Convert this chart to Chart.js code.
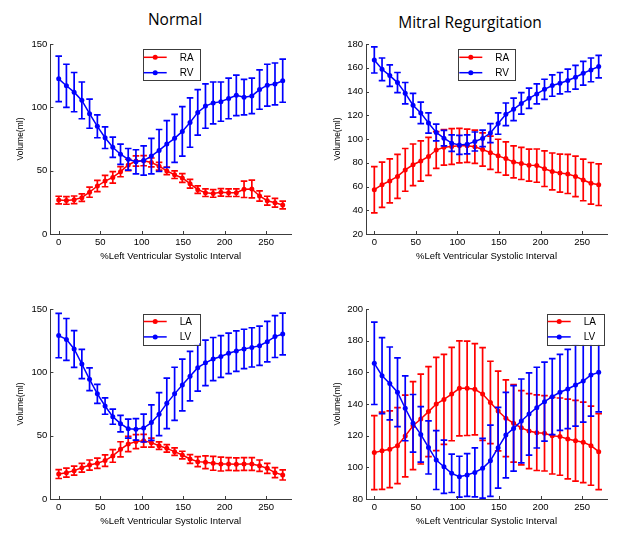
<!DOCTYPE html>
<html>
<head>
<meta charset="utf-8">
<script src="https://cdn.jsdelivr.net/npm/chart.js@4.4.1/dist/chart.umd.min.js"></script>
<style>
  body { margin: 0; background: #fff; }
  #page { position: relative; width: 618px; height: 548px; overflow: hidden; background: #fff; }
  .panel { position: absolute; width: 309px; height: 240px; }
  .title { position: absolute; font-family: "Open Sans", "Noto Sans", sans-serif; font-size: 15.5px; font-weight: 400;
           line-height: 20px; color: #000; white-space: nowrap; transform: translateX(-50%); }
</style>
</head>
<body>
<div id="page">
  <div class="title" style="left:175px;top:9px">Normal</div>
  <div class="title" style="left:470px;top:12px">Mitral Regurgitation</div>
  <div class="panel" style="left:0;top:30px"><canvas id="c1"></canvas></div>
  <div class="panel" style="left:309px;top:30px"><canvas id="c2"></canvas></div>
  <div class="panel" style="left:0;top:295px"><canvas id="c3"></canvas></div>
  <div class="panel" style="left:309px;top:295px"><canvas id="c4"></canvas></div>
</div>
<script>
// % of left ventricular systolic interval
const xs = [0, 9.3, 18.6, 27.9, 37.2, 46.6, 55.9, 65.2, 74.5, 83.8, 93.1, 102.4, 111.7, 121.0, 130.3,
            139.7, 149.0, 158.3, 167.6, 176.9, 186.2, 195.5, 204.8, 214.1, 223.4, 232.8, 242.1, 251.4, 260.7, 270];
const xTicks = [0, 50, 100, 150, 200, 250];

// Normal - right heart
const normRA    = [26.8, 26.5, 27, 28.7, 33, 37.9, 41.8, 44.7, 49.2, 54.5, 57.6, 57.9, 56.5, 53.5, 49.8, 46.8, 44.2, 39.7, 35, 32.6, 32, 32.9, 32.6, 32.6, 35.3, 35.5, 30, 26.3, 24.7, 22.9];
const normRAerr = [3, 3, 3, 3, 4, 4.5, 4.5, 4.5, 4, 4.5, 4, 4, 3.5, 3, 3, 3, 3.5, 3.5, 3, 3, 3, 3, 3, 3, 6.5, 7, 4, 3.5, 3.5, 3];
const normRV    = [122.5, 117, 112, 105.5, 95, 85, 76, 68.5, 63, 59, 57, 58, 61.5, 66, 71, 75.5, 81, 88, 96, 101, 103.5, 104.5, 107, 109.5, 108, 109, 114, 117.5, 118.5, 121];
const normRVerr = [18, 17, 15.5, 14.5, 11.5, 9, 8.5, 8, 8, 8.5, 9.5, 11.5, 14, 16.5, 18.5, 19, 19.5, 19.5, 18, 17.5, 16.5, 15.5, 16, 16, 14, 14, 15.5, 16.5, 16.5, 17];

// Mitral regurgitation - right heart
const mrRA    = [57.3, 61.5, 64.7, 68.5, 74, 78.3, 81.5, 85.3, 90.7, 93, 93.7, 94.4, 94.3, 93.4, 91.2, 88.5, 85.8, 83.5, 80.7, 79.4, 78, 77.6, 75, 72.7, 71.3, 70.6, 68.5, 65.5, 62.7, 61.5];
const mrRAerr = [19.5, 19, 18.5, 18.5, 18, 17.5, 17, 16, 15.5, 15, 15, 14.5, 14, 14, 14, 14, 14, 14, 13.5, 13.5, 13.5, 14, 15, 15.5, 16, 16.5, 17, 17.5, 17.5, 17.5];
const mrRV    = [166.6, 158.7, 153.4, 147.5, 138.6, 128.5, 122, 113.5, 105.5, 100.7, 96.5, 95, 95.5, 97.9, 100.5, 105, 113, 120.8, 125, 130, 134.3, 138, 141.8, 145, 147, 149.3, 152, 155.4, 158.2, 161];
const mrRVerr = [11, 9.5, 9, 8.5, 9, 10, 9, 8.5, 7, 6.5, 7, 8, 8, 8, 7, 8, 9, 9.5, 9.5, 9, 8.5, 8.5, 8.5, 9, 9, 9.5, 10, 10, 10, 9.5];

// Normal - left heart
const normLA    = [19.7, 20.8, 22.4, 24.7, 26.8, 28.2, 30.3, 34, 39.2, 43.4, 45.3, 46, 44.5, 42.1, 40, 37.4, 34.7, 31.6, 29.5, 29, 28.2, 27.6, 27.6, 27.4, 27.6, 27.6, 26.3, 24.2, 20.8, 19];
const normLAerr = [3.5, 3.5, 3.5, 3.5, 4, 4, 4.5, 5, 6, 6, 5.5, 5, 3.5, 3, 3, 3, 3, 3.5, 4, 5, 5.5, 5.5, 5, 5, 5, 5, 4.5, 4, 4, 4];
const normLV    = [129, 126, 118.4, 106.6, 94.5, 83, 73.4, 65, 59.5, 55.5, 55, 56, 60.3, 67, 75.5, 83, 90, 97, 103.7, 107.5, 110.5, 112.5, 115, 116.8, 118.5, 119.7, 121, 124.2, 128.2, 130.3];
const normLVerr = [17.5, 16.5, 14.5, 11.5, 9, 7.5, 6.5, 6, 6.5, 7.5, 8.5, 11, 14, 17, 20, 21, 20.5, 19.5, 18.5, 18, 17, 16.5, 16, 16, 15.5, 15.5, 15.5, 16, 16.5, 16.5];

// Mitral regurgitation - left heart
const mrLA    = [109.3, 110.5, 111.4, 113.7, 119.8, 126.3, 130.5, 135.2, 140, 142.9, 146.3, 149.9, 149.9, 149.3, 146.3, 141, 135.6, 131, 127.8, 125, 122.9, 121.9, 121.5, 120, 119.4, 117.9, 116.8, 115.8, 113.7, 109.9];
const mrLAerr = [23.4, 24.4, 24.2, 24, 25.8, 27.8, 28.4, 28.4, 29.5, 28.4, 29.5, 30, 29.8, 28.8, 29.3, 26, 25.2, 24.2, 24.5, 23.5, 23.7, 23.9, 23.8, 24.2, 24.4, 25.2, 25.5, 25.4, 25, 24];
const mrLV    = [165.7, 157.9, 153, 147.4, 137.3, 127.8, 120.8, 112.6, 104.6, 100.4, 96.2, 94.1, 95.2, 96.8, 99.4, 104.2, 112.4, 120.4, 124.6, 129.3, 133.7, 137.7, 141.5, 144.6, 147.4, 149.5, 152, 154.5, 158.3, 160];
const mrLVerr = [26, 24, 23, 21.7, 20.5, 18.2, 17.5, 16.8, 18.6, 16.8, 12.1, 12.9, 13.5, 15.5, 18.9, 22.5, 25.5, 27, 27, 26.5, 26, 25.5, 25, 24, 24, 25, 26, 26, 26, 25];

const yTicksNormal = [0, 50, 100, 150];
const yTicksMrRight = [20, 40, 60, 80, 100, 120, 140, 160, 180];
const yTicksMrLeft = [80, 100, 120, 140, 160, 180, 200];

Chart.defaults.font.family = "'Liberation Sans', Arial, sans-serif";
Chart.defaults.color = '#000';

const RED = '#ff0000';
const BLUE = '#0000ff';
const AXIS = '#3c3c3c';

// vertical error bars with caps, drawn just before each line
const errorBars = {
  id: 'errorBars',
  beforeDatasetDraw(chart, args) {
    const ds = chart.data.datasets[args.index];
    if (!ds.errors) return;
    const { ctx, chartArea } = chart;
    const xs_ = chart.scales.x, ys_ = chart.scales.y;
    ctx.save();
    ctx.beginPath();
    ctx.rect(chartArea.left, chartArea.top - 1, chartArea.right - chartArea.left, chartArea.bottom - chartArea.top + 2);
    ctx.clip();
    ctx.strokeStyle = ds.borderColor;
    ctx.lineWidth = 1.7;
    ds.data.forEach((p, i) => {
      const e = ds.errors[i];
      const px = xs_.getPixelForValue(p.x);
      const top = ys_.getPixelForValue(p.y + e);
      const bot = ys_.getPixelForValue(p.y - e);
      ctx.beginPath();
      ctx.moveTo(px, top); ctx.lineTo(px, bot);
      ctx.moveTo(px - 3.3, top); ctx.lineTo(px + 3.3, top);
      ctx.moveTo(px - 3.3, bot); ctx.lineTo(px + 3.3, bot);
      ctx.stroke();
    });
    ctx.restore();
  }
};

// inward tick marks like the original axes
const innerTicks = {
  id: 'innerTicks',
  afterDraw(chart) {
    const { ctx, chartArea } = chart;
    ctx.save();
    ctx.strokeStyle = AXIS;
    ctx.lineWidth = 1;
    ctx.beginPath();
    chart.scales.x.ticks.forEach(t => {
      const px = Math.round(chart.scales.x.getPixelForValue(t.value)) + 0.5;
      ctx.moveTo(px, chartArea.bottom); ctx.lineTo(px, chartArea.bottom - 3);
    });
    chart.scales.y.ticks.forEach(t => {
      const py = Math.round(chart.scales.y.getPixelForValue(t.value)) + 0.5;
      ctx.moveTo(chartArea.left, py); ctx.lineTo(chartArea.left + 3, py);
    });
    ctx.stroke();
    ctx.restore();
  }
};

// boxed legend inside the axes
const boxLegend = {
  id: 'boxLegend',
  afterDraw(chart, args, opts) {
    const { ctx, chartArea } = chart;
    const w = 56.6, h = 31.4;
    const left = opts.side === 'right' ? chartArea.right - opts.dx - w : chartArea.left + opts.dx;
    const top = chartArea.top + opts.dy;
    ctx.save();
    ctx.fillStyle = '#fff';
    ctx.fillRect(left, top, w, h);
    ctx.strokeStyle = '#3c3c3c';
    ctx.lineWidth = 1;
    ctx.strokeRect(Math.round(left) + 0.5, Math.round(top) + 0.5, Math.round(w), Math.round(h));
    chart.data.datasets.forEach((ds, i) => {
      const y = top + 8 + i * 15.4;
      ctx.strokeStyle = ds.borderColor;
      ctx.lineWidth = 1.5;
      ctx.beginPath();
      ctx.moveTo(left + 1, y); ctx.lineTo(left + 24, y);
      ctx.stroke();
      ctx.fillStyle = ds.borderColor;
      ctx.beginPath();
      ctx.arc(left + 12.5, y, 2.5, 0, Math.PI * 2);
      ctx.fill();
      ctx.fillStyle = '#000';
      ctx.font = "10px 'Liberation Sans', Arial, sans-serif";
      ctx.textBaseline = 'middle';
      ctx.textAlign = 'left';
      ctx.fillText(ds.label, left + 37, y + 0.5);
    });
    ctx.restore();
  }
};

function series(label, vals, errs, color, order) {
  return {
    label: label,
    data: xs.map((x, i) => ({ x: x, y: vals[i] })),
    errors: errs,
    borderColor: color,
    backgroundColor: color,
    borderWidth: 1.5,
    pointRadius: 2.5,
    pointBorderWidth: 0,
    pointBackgroundColor: color,
    tension: 0,
    fill: false,
    order: order
  };
}

function makeChart(id, names, a, aErr, b, bErr, yTicks, area, legend, yTitlePad) {
  const H = 240, W = 309;
  new Chart(document.getElementById(id), {
    type: 'line',
    data: {
      datasets: [
        series(names[0], a, aErr, RED, 1),
        series(names[1], b, bErr, BLUE, 0)
      ]
    },
    options: {
      responsive: true,
      maintainAspectRatio: false,
      animation: false,
      layout: { padding: { top: area.T, right: W - area.R, left: 0, bottom: 0 } },
      plugins: {
        legend: { display: false },
        tooltip: { enabled: false },
        boxLegend: legend
      },
      scales: {
        x: {
          type: 'linear',
          min: -10,
          max: 280,
          afterBuildTicks: s => { s.ticks = xTicks.map(v => ({ value: v })); },
          afterFit: s => { s.height = H - area.B; },
          grid: { display: false, drawTicks: false },
          border: { display: true, color: AXIS, width: 1 },
          ticks: { font: { size: 9.5 }, padding: 3, maxRotation: 0, autoSkip: false },
          title: { display: true, text: '%Left Ventricular Systolic Interval', font: { size: 9.5 }, padding: { top: 0, bottom: 7.6 } }
        },
        y: {
          min: yTicks[0],
          max: yTicks[yTicks.length - 1],
          afterBuildTicks: s => { s.ticks = yTicks.map(v => ({ value: v })); },
          afterFit: s => { s.width = area.L; },
          grid: { display: false, drawTicks: false },
          border: { display: true, color: AXIS, width: 1 },
          ticks: { font: { size: 9.5 }, padding: 3, autoSkip: false },
          title: { display: true, text: 'Volume(ml)', font: { size: 8.5 }, padding: { top: yTitlePad, bottom: 0 } }
        }
      }
    },
    plugins: [errorBars, innerTicks, boxLegend]
  });
}

const areaL = { L: 50.4, R: 291, T: 14, B: 204 };
const areaR = { L: 57, R: 298, T: 14, B: 204 };

makeChart('c1', ['RA', 'RV'], normRA, normRAerr, normRV, normRVerr, yTicksNormal, areaL, { side: 'left', dx: 92.3, dy: 5.3 }, 16);
makeChart('c2', ['RA', 'RV'], mrRA, mrRAerr, mrRV, mrRVerr, yTicksMrRight, areaR, { side: 'left', dx: 92.3, dy: 5.3 }, 24);
makeChart('c3', ['LA', 'LV'], normLA, normLAerr, normLV, normLVerr, yTicksNormal, areaL, { side: 'left', dx: 92.3, dy: 4.5 }, 16);
makeChart('c4', ['LA', 'LV'], mrLA, mrLAerr, mrLV, mrLVerr, yTicksMrLeft, areaR, { side: 'right', dx: 3.7, dy: 4.5 }, 24);
</script>
</body>
</html>
